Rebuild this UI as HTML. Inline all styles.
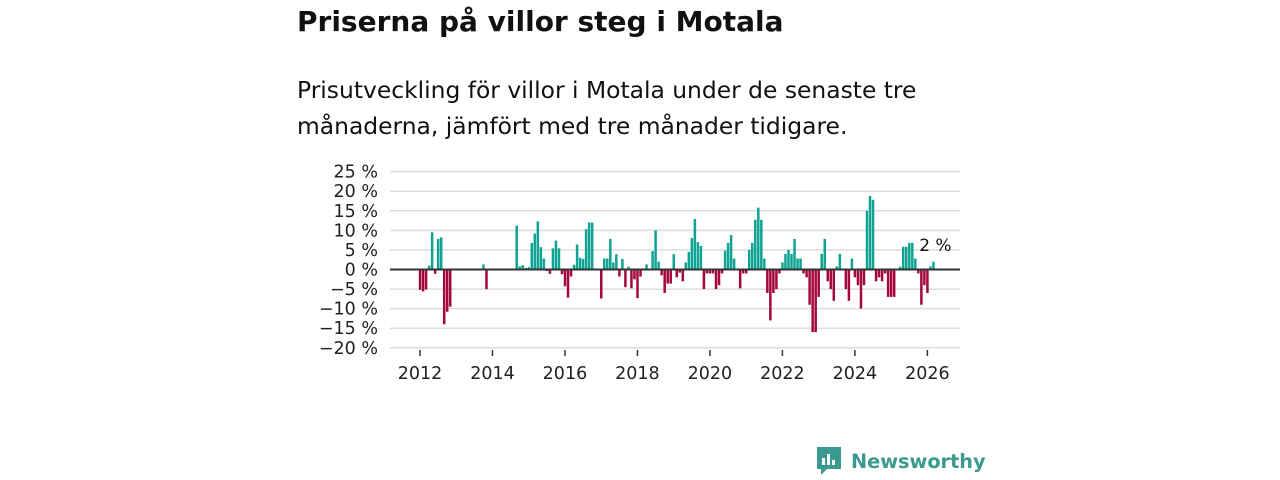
<!DOCTYPE html>
<html><head><meta charset="utf-8">
<style>
body{margin:0;width:1280px;height:480px;background:#fff;font-family:"Liberation Sans","DejaVu Sans",sans-serif;overflow:hidden;position:relative}
h1{position:absolute;left:297px;top:5px;margin:0;font-size:28px;font-weight:bold;color:#111;font-family:"DejaVu Sans",sans-serif}
p.sub{position:absolute;left:297px;top:72px;margin:0;font-size:23.4px;line-height:36px;color:#111;width:680px;font-family:"DejaVu Sans",sans-serif}
svg{position:absolute;left:0;top:0}
</style></head><body>
<h1>Priserna på villor steg i Motala</h1>
<p class="sub">Prisutveckling för villor i Motala under de senaste tre månaderna, jämfört med tre månader tidigare.</p>
<svg id="chart" width="1280" height="480"></svg>
<script>
const yTicks=[25,20,15,10,5,0,-5,-10,-15,-20];
const xTickYears=[2012,2014,2016,2018,2020,2022,2024,2026];
const startYear=2012;
const values=[-5.2,-5.6,-5.1,1,9.5,-1.1,7.8,8.2,-14,-10.8,-9.5,null,
null,null,null,null,null,null,null,null,null,1.3,-5,null,
null,null,null,null,null,null,null,null,11.2,0.8,1.1,0.4,
0.6,6.8,9.2,12.3,5.7,2.8,-0.4,-1.1,5.4,7.4,5.4,-1.2,
-4.3,-7.2,-1.8,1.2,6.4,3,2.7,10.3,12,12,null,null,
-7.4,2.8,2.8,7.8,1.8,3.9,-1.8,2.7,-4.5,0.7,-4.8,-2.5,
-7.3,-1.8,null,1.3,null,4.7,10,2,-1.5,-6,-3.6,-3.6,
3.9,-2,-0.8,-3,1.8,4.5,8,12.9,7,6,-5,-1,
-1,-1,-5,-4,-1,4.8,6.8,8.8,2.8,null,-4.8,-1,
-1,5,6.8,12.7,15.8,12.7,2.8,-6,-13,-6,-5,-1,
1.8,4,5,4,7.8,2.8,2.8,-1,-2,-9,-16,-16,
-7,4,7.8,-3,-5,-8,0.8,4,null,-5,-8,2.8,
-2,-4,-10,-4,15,18.8,17.8,-3,-2,-3,-1,-7,
-7,-7,null,0.7,5.8,5.8,6.8,6.8,2.8,-1,-9,-4,
-6,0.8,2];
const lastLabel="2 %";
const NS="http://www.w3.org/2000/svg";
const svg=document.getElementById('chart');
const y=v=>269.5-(v)*3.915;
const x=m=>420+m*3.02;
function mk(t,a){const e=document.createElementNS(NS,t);for(const k in a)e.setAttribute(k,a[k]);svg.appendChild(e);return e;}
yTicks.forEach(t=>{
 const g=mk('line',{x1:390,x2:960,y1:y(t),y2:y(t),stroke:'#dddddd','stroke-width':1.5});
 
 
 const tx=mk('text',{x:378,y:y(t)+6,'text-anchor':'end','font-size':17.5,fill:'#222','font-family':'DejaVu Sans, sans-serif'});
 tx.textContent=(t<0?'\u2212'+(-t):t)+' %';
 
 
});
xTickYears.forEach(yr=>{
 const xx=x((yr-startYear)*12);
 const l=mk('line',{x1:xx,x2:xx,y1:350,y2:356,stroke:'#333','stroke-width':1.5});
 
 
 const tx=mk('text',{x:xx,y:379,'text-anchor':'middle','font-size':17.5,fill:'#222','font-family':'DejaVu Sans, sans-serif'});
 tx.textContent=yr;
 
 
});
values.forEach((v,i)=>{
 if(v===null)return;
 const r=mk('rect',{x:x(i)-1.2,width:2.5,y:Math.min(y(v),y(0)),height:Math.abs(y(v)-y(0)),fill:v>=0?'#0fa393':'#a3073e'});
 
 
});
const z=mk('line',{x1:390,x2:960,y1:y(0),y2:y(0),stroke:'#333','stroke-width':2});


const li=values.length-1;
const lab=mk('text',{x:x(li)+2,y:251,'text-anchor':'middle','font-size':17,fill:'#111','font-family':'DejaVu Sans, sans-serif'});
lab.textContent=lastLabel;


</script>
<div style="position:absolute;left:815px;top:446px;height:30px;display:flex;align-items:center;">
 <svg width="28" height="32" viewBox="0 0 28 32" style="position:static"><path d="M2 2h24v22H12l-6 6v-6H2z" fill="#3a9a8f"/><rect x="7" y="13" width="3" height="7" fill="#fff"/><rect x="12" y="9" width="3" height="11" fill="#fff"/><rect x="17" y="15" width="3" height="5" fill="#fff"/></svg>
 <span style="margin-left:8px;font-size:19.3px;font-weight:bold;color:#3a9a8f;font-family:'DejaVu Sans',sans-serif">Newsworthy</span>
</div>
</body></html>
